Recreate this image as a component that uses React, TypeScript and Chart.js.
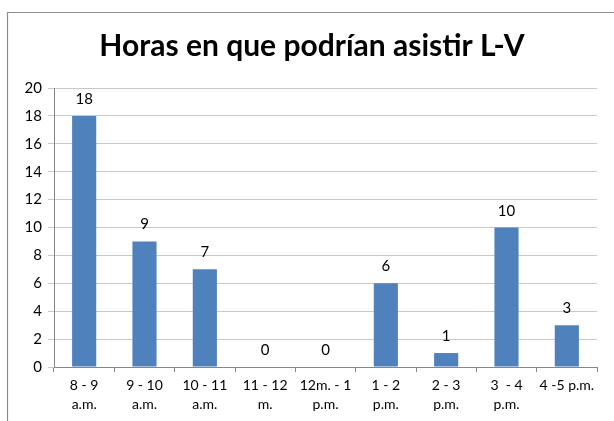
import React, { useEffect, useRef } from "react";
import { Chart, registerables } from "chart.js";

Chart.register(...registerables);

const categories: string[][] = [
  ["8 - 9", "a.m."],
  ["9 - 10", "a.m."],
  ["10 - 11", "a.m."],
  ["11 - 12", "m."],
  ["12m. - 1", "p.m."],
  ["1 - 2", "p.m."],
  ["2 - 3", "p.m."],
  ["3  - 4", "p.m."],
  ["4 -5 p.m."],
];
const values: number[] = [18, 9, 7, 0, 0, 6, 1, 10, 3];
const yTicks: number[] = [0, 2, 4, 6, 8, 10, 12, 14, 16, 18, 20];
const title = "Horas en que podrían asistir L-V";

const FONT = "Lato, 'Open Sans', sans-serif";

export default function App() {
  const ref = useRef<HTMLCanvasElement | null>(null);
  useEffect(() => {
    document.body.style.margin = "0";
    const canvas = ref.current!;
    const framePlugin = {
      id: "frame",
      beforeDraw(chart: any) {
        const ctx = chart.ctx;
        ctx.save();
        ctx.fillStyle = "#ffffff";
        ctx.fillRect(0, 0, chart.width, chart.height);
        ctx.strokeStyle = "#8c8c8c";
        ctx.lineWidth = 1.2;
        ctx.beginPath();
        ctx.moveTo(7.5, chart.height + 2);
        ctx.lineTo(7.5, 12.5);
        ctx.lineTo(chart.width + 2, 12.5);
        ctx.stroke();
        ctx.fillStyle = "#000000";
        ctx.font = `bold 30px ${FONT}`;
        ctx.textAlign = "center";
        ctx.textBaseline = "alphabetic";
        ctx.fillText(title, 312, 56);
        ctx.restore();
      },
    };
    const labelPlugin = {
      id: "vals",
      afterDatasetsDraw(chart: any) {
        const ctx = chart.ctx;
        const meta = chart.getDatasetMeta(0);
        ctx.save();
        ctx.fillStyle = "#000000";
        ctx.font = `15px ${FONT}`;
        ctx.textAlign = "center";
        ctx.textBaseline = "alphabetic";
        meta.data.forEach((el: any, i: number) => {
          ctx.fillText(String(values[i]), el.x, el.y - 12);
        });
        ctx.restore();
      },
    };
    const chart = new Chart(canvas, {
      type: "bar",
      data: {
        labels: categories,
        datasets: [
          {
            data: values,
            backgroundColor: "#4f81bd",
            barPercentage: 0.4,
            categoryPercentage: 1,
          },
        ],
      },
      options: {
        animation: false,
        responsive: false,
        maintainAspectRatio: false,
        layout: { padding: { left: 0, top: 88, right: 17, bottom: 0 } },
        plugins: { legend: { display: false }, tooltip: { enabled: false }, title: { display: false } },
        scales: {
          x: {
            grid: {
              display: true,
              offset: true,
              drawOnChartArea: false,
              drawTicks: true,
              tickLength: 5,
              color: "#868686",
            },
            border: { color: "#868686" },
            ticks: {
              color: "#000000",
              font: { family: FONT, size: 14, lineHeight: 1.35 },
              maxRotation: 0,
              minRotation: 0,
              autoSkip: false,
              padding: 4,
            },
            afterFit(scale: any) {
              scale.height = 54;
            },
          },
          y: {
            min: 0,
            max: 20,
            afterBuildTicks(scale: any) {
              scale.ticks = yTicks.map((v) => ({ value: v }));
            },
            grid: {
              color: "#c8c8c8",
              tickLength: 6,
              drawTicks: true,
            },
            border: { color: "#868686" },
            ticks: {
              color: "#000000",
              font: { family: FONT, size: 15 },
              padding: 6,
            },
            afterFit(scale: any) {
              scale.width = 54;
            },
          },
        },
      },
      plugins: [framePlugin, labelPlugin],
    });
    return () => chart.destroy();
  }, []);
  return <canvas ref={ref} width={614} height={421} style={{ display: "block" }} />;
}
